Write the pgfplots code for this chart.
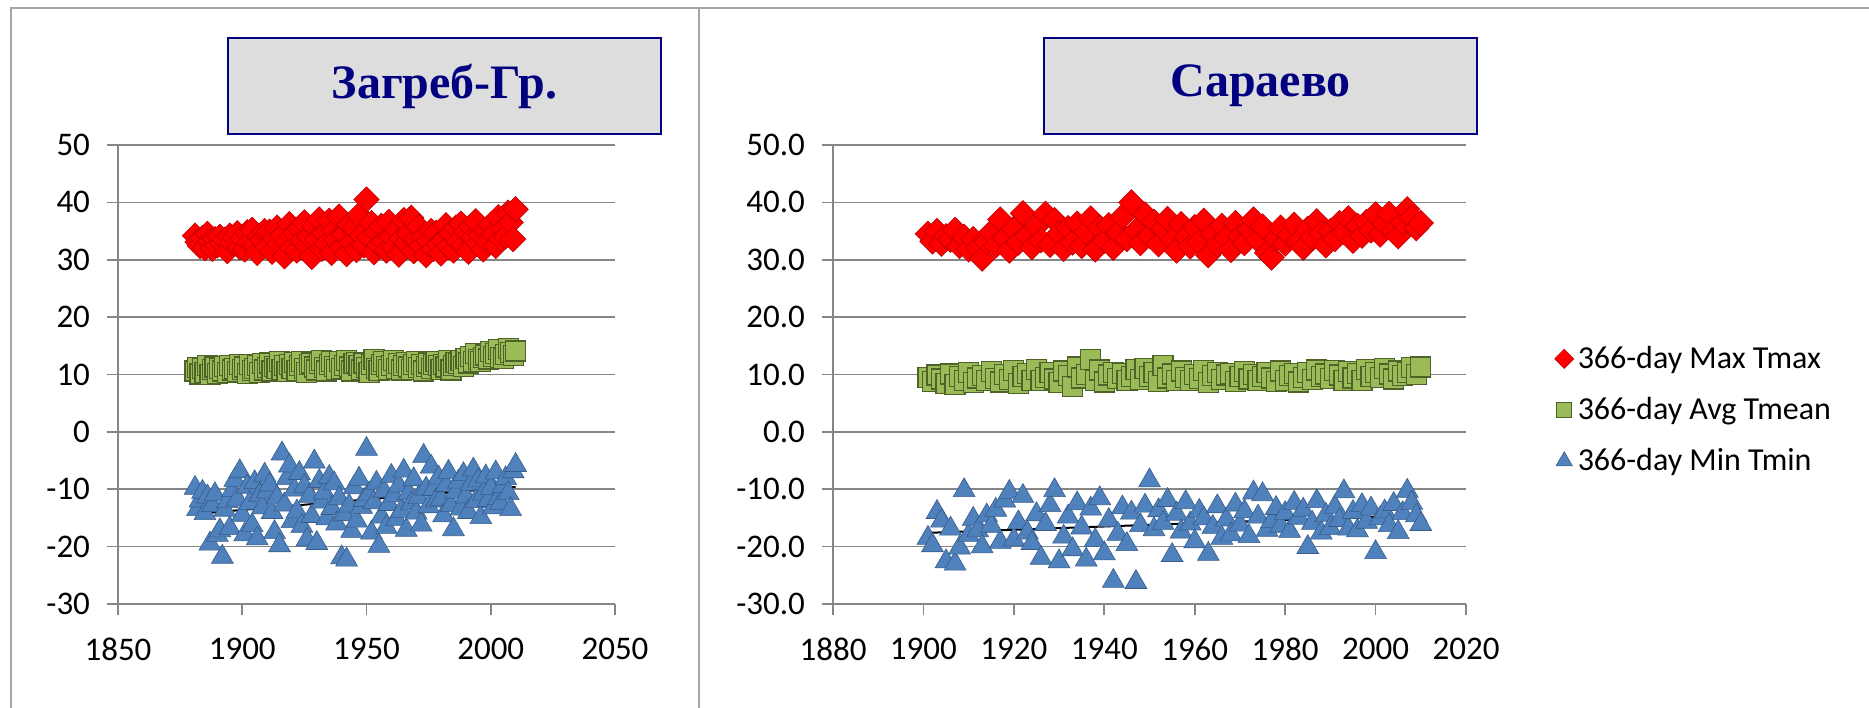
\documentclass[border=0pt]{standalone}
\usepackage{fontspec}
\setmainfont{Carlito}
\newfontfamily\titlefont{Liberation Serif}
\usepackage{pgfplots}
\pgfplotsset{compat=1.18}
\usepackage{pgfplotstable}

\definecolor{tmaxred}{HTML}{FF0000}
\definecolor{tmaxedge}{HTML}{C00000}
\definecolor{tmeangreen}{HTML}{9BBB59}
\definecolor{tmeanedge}{HTML}{4F6228}
\definecolor{tminblue}{HTML}{4F81BD}
\definecolor{tminedge}{HTML}{385D8A}
\definecolor{gridgray}{HTML}{868686}
\definecolor{framegray}{HTML}{A6A6A6}
\definecolor{navytitle}{HTML}{000080}
\definecolor{boxgray}{HTML}{DDDDDD}

% Zagreb-Gric: year, 366-day max Tmax, avg Tmean, min Tmin
\pgfplotstableread{
year tmax tmean tmin
1881 34.2 10.6 -9.8
1882 33.1 11.2 -13.5
1883 32.4 10.1 -12.0
1884 33.8 11.0 -10.5
1885 32.0 10.4 -14.2
1886 34.5 11.5 -11.3
1887 33.2 10.0 -19.5
1888 31.9 10.9 -12.8
1889 33.6 11.3 -10.9
1890 32.5 10.2 -18.0
1891 34.0 11.0 -17.2
1892 32.8 10.6 -21.8
1893 33.5 11.4 -13.6
1894 31.5 10.3 -12.1
1895 34.2 11.6 -16.8
1896 32.9 10.8 -10.2
1897 33.9 11.1 -8.4
1898 34.6 10.5 -11.8
1899 32.2 11.8 -6.9
1900 33.7 10.9 -14.5
1901 31.8 11.3 -17.9
1902 34.8 10.2 -9.6
1903 33.0 11.7 -12.4
1904 35.2 10.7 -16.3
1905 32.6 11.0 -8.8
1906 31.2 11.5 -18.6
1907 34.1 10.4 -11.0
1908 33.4 11.9 -13.2
1909 35.0 10.8 -7.5
1910 32.3 11.2 -10.4
1911 34.9 12.0 -9.2
1912 31.4 10.6 -14.0
1913 33.8 11.4 -17.5
1914 35.6 11.0 -11.5
1915 32.7 12.3 -19.8
1916 34.3 10.9 -3.8
1917 30.6 11.6 -12.7
1918 33.1 10.5 -8.1
1919 36.2 11.8 -5.9
1920 32.0 11.1 -15.6
1921 34.7 12.1 -10.1
1922 31.6 10.7 -13.9
1923 35.4 11.5 -7.2
1924 33.3 12.2 -16.4
1925 36.5 11.0 -9.5
1926 32.4 10.3 -18.8
1927 34.0 11.7 -11.2
1928 30.5 12.0 -14.7
1929 35.8 11.3 -5.2
1930 33.6 10.8 -19.4
1931 37.0 11.9 -8.6
1932 31.9 12.4 -12.2
1933 34.6 11.2 -10.6
1934 32.8 10.6 -15.1
1935 36.8 11.8 -7.9
1936 31.2 12.3 -13.3
1937 35.1 11.4 -9.0
1938 33.5 10.9 -16.0
1939 37.5 12.2 -11.6
1940 32.1 11.0 -21.9
1941 34.4 11.6 -14.4
1942 31.0 12.5 -22.3
1943 36.1 11.3 -12.9
1944 33.0 10.6 -17.3
1945 35.5 11.9 -9.7
1946 31.7 12.1 -15.5
1947 37.8 11.5 -8.2
1948 34.2 10.8 -13.1
1949 32.5 12.0 -11.9
1950 40.5 11.2 -3.0
1951 33.9 10.4 -10.8
1952 36.4 11.7 -17.6
1953 31.3 12.6 -12.3
1954 34.8 11.1 -8.9
1955 32.6 10.7 -19.9
1956 35.9 11.8 -14.8
1957 33.2 12.2 -10.3
1958 31.6 11.4 -16.6
1959 36.6 10.9 -12.6
1960 34.0 11.6 -7.7
1961 32.2 12.4 -11.1
1962 35.3 11.0 -15.2
1963 30.9 11.9 -9.4
1964 33.7 10.8 -13.8
1965 36.9 11.5 -6.8
1966 32.9 12.1 -17.1
1967 34.5 11.3 -10.7
1968 37.3 10.9 -12.5
1969 31.5 11.7 -8.3
1970 33.6 12.3 -14.1
1971 35.7 11.2 -11.4
1972 32.4 11.8 -16.2
1973 34.1 10.6 -4.2
1974 30.8 11.4 -9.9
1975 33.3 12.0 -13.0
1976 35.0 11.1 -6.1
1977 31.9 11.7 -10.0
1978 34.7 12.2 -12.0
1979 32.7 11.5 -8.0
1980 31.1 10.9 -11.7
1981 33.4 11.8 -14.6
1982 36.0 11.3 -9.3
1983 32.3 12.4 -7.0
1984 34.6 10.8 -12.8
1985 31.6 11.6 -17.0
1986 35.6 12.1 -10.5
1987 33.1 11.9 -8.7
1988 36.3 12.5 -13.4
1989 32.5 11.4 -7.4
1990 34.9 12.8 -11.3
1991 31.4 12.0 -14.0
1992 35.8 13.2 -9.1
1993 33.9 12.3 -6.6
1994 36.7 13.6 -12.1
1995 32.8 12.6 -8.5
1996 34.3 12.2 -14.9
1997 31.8 13.0 -10.8
1998 35.2 13.4 -7.8
1999 33.0 12.7 -11.9
2000 36.1 14.0 -9.8
2001 34.5 13.1 -13.2
2002 32.4 13.7 -7.1
2003 37.4 14.3 -11.6
2004 33.7 12.9 -12.4
2005 35.4 12.8 -9.5
2006 34.1 13.5 -8.1
2007 38.2 14.6 -10.7
2008 36.5 13.9 -13.5
2009 33.6 13.3 -6.9
2010 38.8 14.1 -5.8
}\zagreb

% Sarajevo: year, 366-day max Tmax, avg Tmean, min Tmin
\pgfplotstableread{
year tmax tmean tmin
1901 34.5 9.5 -18.5
1902 33.2 8.8 -19.8
1903 35.0 9.9 -14.0
1904 32.8 9.2 -15.5
1905 34.1 8.5 -22.6
1906 33.5 10.1 -16.9
1907 35.2 8.3 -23.0
1908 32.4 9.6 -20.2
1909 34.0 9.0 -10.2
1910 31.8 10.3 -18.0
1911 33.6 8.6 -15.2
1912 32.0 9.4 -17.2
1913 30.2 9.8 -20.0
1914 33.1 8.9 -14.6
1915 34.8 10.5 -16.4
1916 32.5 9.3 -13.6
1917 37.0 8.7 -19.2
1918 33.8 10.0 -12.0
1919 31.6 9.1 -10.5
1920 35.4 10.7 -18.8
1921 33.0 8.4 -15.8
1922 38.1 9.7 -11.2
1923 34.2 10.2 -17.6
1924 32.2 9.0 -19.4
1925 35.8 10.9 -14.4
1926 33.4 8.9 -22.0
1927 38.0 9.5 -16.1
1928 32.6 10.4 -12.8
1929 36.9 9.2 -10.2
1930 34.6 8.6 -22.6
1931 31.9 10.6 -18.3
1932 35.5 9.8 -14.8
1933 33.0 7.9 -20.5
1934 36.3 11.3 -12.5
1935 32.4 9.4 -16.7
1936 34.8 10.0 -22.3
1937 37.2 12.6 -13.4
1938 31.8 9.0 -18.9
1939 35.6 10.8 -11.6
1940 33.3 8.7 -21.2
1941 36.0 9.9 -15.4
1942 32.1 10.4 -26.0
1943 34.7 9.3 -17.8
1944 37.5 10.2 -13.2
1945 33.6 8.9 -19.6
1946 40.0 9.6 -14.1
1947 35.1 10.9 -26.2
1948 32.9 9.1 -16.3
1949 37.9 11.0 -12.9
1950 34.2 9.7 -8.5
1951 36.6 10.3 -17.0
1952 32.7 8.8 -13.7
1953 35.4 11.5 -15.9
1954 37.1 9.4 -11.9
1955 33.5 10.1 -21.5
1956 31.6 9.0 -14.3
1957 36.2 10.6 -17.4
1958 34.0 9.5 -12.3
1959 32.3 8.9 -16.0
1960 35.7 10.0 -19.1
1961 33.1 9.3 -13.8
1962 36.8 10.7 -15.1
1963 30.8 8.6 -21.3
1964 34.5 9.8 -16.6
1965 32.6 10.4 -13.0
1966 35.9 9.1 -18.5
1967 33.8 9.9 -15.3
1968 31.7 10.2 -17.9
1969 36.4 8.8 -12.7
1970 34.1 9.6 -16.2
1971 32.9 10.5 -13.9
1972 35.3 9.2 -18.2
1973 37.0 10.0 -10.6
1974 33.4 8.9 -14.8
1975 35.8 9.7 -10.9
1976 31.2 10.3 -17.1
1977 30.4 9.4 -15.6
1978 33.7 8.8 -13.3
1979 35.6 10.6 -16.4
1980 32.8 9.0 -14.2
1981 34.3 9.8 -17.3
1982 36.1 10.2 -12.4
1983 33.2 8.7 -15.0
1984 32.1 9.5 -13.6
1985 35.4 10.4 -20.1
1986 33.9 9.1 -15.9
1987 36.7 10.8 -12.1
1988 34.6 9.6 -17.6
1989 32.5 10.1 -14.5
1990 35.0 9.3 -16.8
1991 33.6 10.7 -13.1
1992 36.4 9.9 -15.4
1993 34.8 8.9 -10.4
1994 37.2 10.5 -16.9
1995 33.3 9.4 -14.0
1996 35.9 10.2 -17.2
1997 34.2 9.0 -12.8
1998 36.6 10.9 -15.7
1999 35.1 9.7 -13.4
2000 37.9 10.3 -21.0
2001 34.4 9.5 -15.1
2002 36.3 11.0 -13.9
2003 38.0 10.1 -16.3
2004 35.0 9.2 -12.6
2005 34.1 10.6 -17.5
2006 36.5 9.8 -14.2
2007 38.8 10.4 -10.3
2008 37.3 11.2 -12.4
2009 35.5 10.0 -14.6
2010 36.4 11.3 -16.1
}\sarajevo

\pgfplotsset{
  tempaxis/.style={
    scale only axis, height=229.5bp,
    ymin=-30, ymax=50, ytick={-30,-20,...,50},
    axis lines*=left,
    axis line style={gridgray, line width=0.9bp},
    tick align=outside, major tick length=5.5bp,
    tick style={gridgray, line width=0.8bp},
    ymajorgrids, grid style={gridgray, line width=0.8bp},
    /pgf/number format/assume math mode=true,
    /pgf/number format/1000 sep={},
    ticklabel style={font=\fontsize{16.5bp}{19bp}\selectfont},
    yticklabel style={xshift=-5bp},
    xticklabel style={yshift=-8bp},
    clip=false,
  },
  maxpts/.style={only marks, mark=square*,
    mark options={rotate=45, mark size=4.5bp, fill=tmaxred, draw=tmaxedge, line width=0.3bp}},
  meanpts/.style={only marks, mark=square*,
    mark options={mark size=5bp, fill=tmeangreen, draw=tmeanedge, line width=0.6bp}},
  minpts/.style={only marks, mark=triangle*,
    mark options={mark size=6.3bp, fill=tminblue, draw=tminedge, line width=0.3bp}},
  trend/.style={black, line width=1bp, forget plot},
}

\begin{document}
\begin{tikzpicture}
\path[use as bounding box] (0,0) rectangle (934.5bp,354bp);

% panel frames
\draw[framegray, line width=1bp] (5.5bp,0) -- (5.5bp,350bp) -- (934.5bp,350bp);
\draw[framegray, line width=1bp] (349.5bp,0) -- (349.5bp,350bp);

% Zagreb
\begin{axis}[tempaxis,
  at={(59bp,52bp)}, anchor=south west, width=248.5bp,
  xmin=1850, xmax=2050, xtick={1850,1900,...,2050},
]
\addplot[maxpts] table[x=year, y=tmax] {\zagreb};
\addplot[meanpts] table[x=year, y=tmean] {\zagreb};
\addplot[minpts] table[x=year, y=tmin] {\zagreb};
\addplot[trend] coordinates {(1881,33.6) (2010,33.8)};
\addplot[trend] coordinates {(1881,10.8) (2010,12.2)};
\addplot[trend] coordinates {(1881,-14.3) (2010,-9.6)};
\end{axis}

% Sarajevo
\begin{axis}[tempaxis,
  at={(416.5bp,52bp)}, anchor=south west, width=316.5bp,
  xmin=1880, xmax=2020, xtick={1880,1900,...,2020},
  yticklabel style={/pgf/number format/.cd, fixed, fixed zerofill, precision=1},
  legend style={draw=none, fill=none, at={(1.13,0.4227)}, anchor=west,
    font=\fontsize{16bp}{19.5bp}\selectfont, row sep=9bp,
    legend cell align=left},
  legend image post style={scale=0.75},
]
\addplot[maxpts] table[x=year, y=tmax] {\sarajevo};
\addplot[meanpts] table[x=year, y=tmean] {\sarajevo};
\addplot[minpts] table[x=year, y=tmin] {\sarajevo};
\addplot[trend] coordinates {(1901,33.4) (2010,35.0)};
\addplot[trend] coordinates {(1901,9.1) (2010,9.8)};
\addplot[trend] coordinates {(1901,-17.6) (2010,-14.5)};
\legend{366-day Max Tmax, 366-day Avg Tmean, 366-day Min Tmin}
\end{axis}

% title boxes
\node[draw=navytitle, fill=boxgray, line width=1bp, minimum width=216.5bp,
  minimum height=48bp, inner sep=0pt, text=navytitle,
  font=\titlefont\bfseries\fontsize{24bp}{28bp}\selectfont]
  at (222.25bp,311bp) {Загреб-Гр.};
\node[draw=navytitle, fill=boxgray, line width=1bp, minimum width=216.5bp,
  minimum height=48bp, inner sep=0pt, text=navytitle,
  font=\titlefont\bfseries\fontsize{24bp}{28bp}\selectfont]
  at (630.25bp,311bp) {Сараево};
\end{tikzpicture}
\end{document}
